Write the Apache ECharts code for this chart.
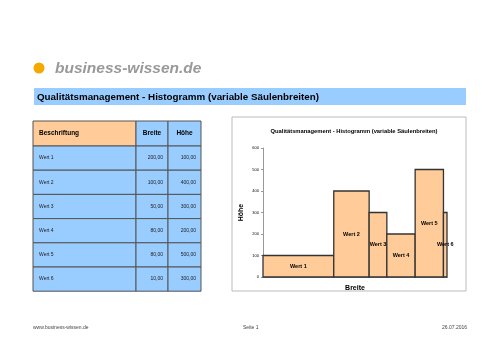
<!DOCTYPE html>
<html><head><meta charset="utf-8">
<script src="https://cdn.jsdelivr.net/npm/echarts@6/dist/echarts.min.js"></script>
<style>html,body{margin:0;padding:0;background:#fff}#c{width:500px;height:354px}</style>
</head><body><div id="c"></div>
<script>
var labels = ["Wert 1","Wert 2","Wert 3","Wert 4","Wert 5","Wert 6"];
var breite = [200, 100, 50, 80, 80, 10];
var hoehe = [100, 400, 300, 200, 500, 300];
var yTicks = [0, 100, 200, 300, 400, 500, 600];
var headers = ["Beschriftung", "Breite", "Höhe"];
var pageTitle = "Qualitätsmanagement - Histogramm (variable Säulenbreiten)";

function fmt(v){ return v.toFixed(2).replace('.', ','); }

var starts = []; var acc = 0;
for (var i=0;i<breite.length;i++){ starts.push(acc); acc += breite[i]; }
var total = acc;
var data = labels.map(function(l,i){ return [starts[i], starts[i]+breite[i], hoehe[i], l]; });

var FF = '"Liberation Sans", Arial, sans-serif';
var chart = echarts.init(document.getElementById('c'));
var g = [];
// logo
g.push({type:'circle', shape:{cx:39, cy:68, r:5.5}, style:{fill:'#F5A800'}});
g.push({type:'text', x:55, y:69, style:{text:'business-wissen.de', fill:'#999', font:'italic bold 15.5px '+FF, verticalAlign:'middle'}});
// banner
g.push({type:'rect', shape:{x:34, y:88, width:432, height:17}, style:{fill:'#99CCFF'}});
g.push({type:'text', x:37, y:97, style:{text:pageTitle, fill:'#000', font:'bold 9.8px '+FF, verticalAlign:'middle'}});
// table
var colX = [33, 136, 168, 201];
var rowY = [121, 146];
for (var r=0;r<labels.length;r++) rowY.push(146 + (r+1)*24.2);
for (var c=0;c<3;c++){
  g.push({type:'rect', shape:{x:colX[c], y:rowY[0], width:colX[c+1]-colX[c], height:rowY[1]-rowY[0]},
    style:{fill: c===0 ? '#FFCC99' : '#99CCFF', stroke:'#555', lineWidth:1}});
  g.push({type:'text', x: c===0 ? colX[c]+6 : (colX[c]+colX[c+1])/2, y:(rowY[0]+rowY[1])/2,
    style:{text:headers[c], fill:'#000', font:'bold 6.5px '+FF, align: c===0?'left':'center', verticalAlign:'middle'}});
}
for (var r=0;r<labels.length;r++){
  var y0 = rowY[r+1], y1 = rowY[r+2];
  var vals = [labels[r], fmt(breite[r]), fmt(hoehe[r])];
  for (var c=0;c<3;c++){
    g.push({type:'rect', shape:{x:colX[c], y:y0, width:colX[c+1]-colX[c], height:y1-y0},
      style:{fill:'#99CCFF', stroke:'#555', lineWidth:1}});
    g.push({type:'text', x: c===0 ? colX[c]+6 : colX[c+1]-5, y:(y0+y1)/2,
      style:{text:vals[c], fill:'#222', font:'5px '+FF, align: c===0?'left':'right', verticalAlign:'middle'}});
  }
}
// chart box
g.push({type:'rect', shape:{x:232, y:117, width:234, height:174}, style:{fill:'none', stroke:'#bbb', lineWidth:1}, z:-1});
// footer
g.push({type:'text', x:33, y:328, style:{text:'www.business-wissen.de', fill:'#444', font:'5px '+FF, verticalAlign:'middle'}});
g.push({type:'text', x:243, y:328, style:{text:'Seite 1', fill:'#444', font:'5px '+FF, verticalAlign:'middle'}});
g.push({type:'text', x:467, y:328, style:{text:'26.07.2016', fill:'#444', font:'5px '+FF, align:'right', verticalAlign:'middle'}});

chart.setOption({
  animation:false,
  title:{text:pageTitle, left:349, top:123, textAlign:'center',
    textStyle:{fontSize:5.8, fontWeight:'bold', color:'#000', fontFamily:FF}},
  grid:{left:263, right:53, top:148, bottom:77},
  xAxis:{type:'value', min:0, max:total, show:true, axisLine:{show:true, lineStyle:{color:'#999'}},
    axisTick:{show:false}, axisLabel:{show:false}, splitLine:{show:false},
    name:'Breite', nameLocation:'middle', nameGap:8,
    nameTextStyle:{fontSize:7, fontWeight:'bold', color:'#000', fontFamily:FF}},
  yAxis:{type:'value', min:0, max:600, interval:100, axisLine:{show:true, lineStyle:{color:'#999'}},
    axisTick:{show:true, length:2, lineStyle:{color:'#999'}}, splitLine:{show:false},
    axisLabel:{fontSize:4, color:'#000', margin:4, formatter:function(v){return yTicks.indexOf(v)>=0? String(v):'';}},
    name:'Höhe', nameLocation:'middle', nameGap:18, nameRotate:90,
    nameTextStyle:{fontSize:7, fontWeight:'bold', color:'#000', fontFamily:FF}},
  series:[{
    type:'custom', data:data,
    renderItem:function(params, api){
      var p0 = api.coord([api.value(0), api.value(2)]);
      var p1 = api.coord([api.value(1), 0]);
      return {type:'group', children:[
        {type:'rect', shape:{x:p0[0], y:p0[1], width:p1[0]-p0[0], height:p1[1]-p0[1]},
          style:{fill:'#FFCC99', stroke:'#333', lineWidth:1.3}},
        {type:'text', x:(p0[0]+p1[0])/2, y:(p0[1]+p1[1])/2, z2:10,
          style:{text:labels[params.dataIndex], fill:'#000', align:'center', verticalAlign:'middle',
            font:'bold 5.5px '+FF}}
      ]};
    },
    encode:{x:[0,1], y:2}
  }],
  graphic:g
});
</script></body></html>
